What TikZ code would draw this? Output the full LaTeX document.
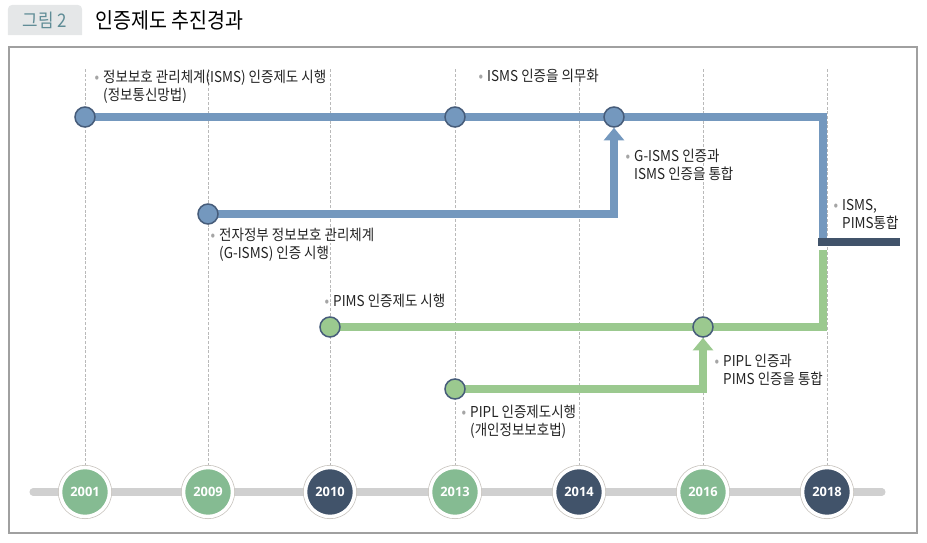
\documentclass[tikz,border=0pt]{standalone}
\usepackage{fontspec}
\setmainfont{Noto Sans CJK KR}[FakeStretch=0.9]
\newfontfamily\yrfont{Open Sans}
\usepackage{xcolor}
\usetikzlibrary{arrows.meta, positioning, backgrounds, calc}
\definecolor{lineblue}{RGB}{116, 152, 190}
\definecolor{linegreen}{RGB}{155, 201, 143}
\definecolor{dotedge}{RGB}{70, 92, 122}
\definecolor{yrgreen}{RGB}{133, 187, 146}
\definecolor{yrdark}{RGB}{65, 83, 106}
\definecolor{ringgray}{RGB}{200, 196, 190}
\definecolor{trackgray}{RGB}{208, 208, 208}
\definecolor{gridgray}{RGB}{185, 185, 185}
\definecolor{framegray}{RGB}{160, 160, 160}
\definecolor{tabgray}{RGB}{229, 231, 232}
\definecolor{tabtext}{RGB}{95, 140, 150}
\definecolor{bulgray}{RGB}{165, 165, 165}
\definecolor{txtdark}{RGB}{35, 35, 35}
\newcommand\bul{\llap{\textcolor{bulgray}{\textbullet}\hspace{3.5pt}}}

\begin{document}
\begin{tikzpicture}[
    x=0.03cm, y=-0.03cm,
    yr/.style={circle, fill=yrgreen, draw=white, line width=3pt, minimum size=1.47cm, inner sep=0pt, preaction={draw=ringgray, line width=4.3pt}, text=white, font=\yrfont\bfseries\fontsize{11}{13}\selectfont},
    dot/.style={circle, draw=dotedge, line width=1.3pt, minimum size=0.6cm, inner sep=0pt},
    bdot/.style={dot, fill=lineblue},
    gdot/.style={dot, fill=linegreen},
    bline/.style={line width=0.24cm, color=lineblue},
    gline/.style={line width=0.24cm, color=linegreen},
    tip/.style={-{Triangle[width=0.6cm, length=0.38cm]}},
    grid/.style={dashed, dash pattern=on 2.5pt off 1.5pt, line width=0.6pt, color=gridgray},
    evt/.style={anchor=north west, inner sep=0pt, align=left, font=\fontsize{12.8}{15.5}\selectfont, text=txtdark}
]
\useasboundingbox (0,0) rectangle (927,543);

% title
\node[minimum width=2.22cm, minimum height=0.9cm, inner sep=0pt, text=tabtext, font=\fontsize{16}{18}\selectfont] (tab) at (45,20) {그림 2};
\node[anchor=west, inner sep=0pt, font=\fontsize{18.5}{20}\selectfont] (title) at (95,20) {인증제도 추진경과};

% years
\foreach \yr/\x/\c in {2001/85/yrgreen, 2009/208/yrgreen, 2010/330/yrdark, 2013/455/yrgreen, 2014/579/yrdark, 2016/703/yrgreen, 2018/827/yrdark}
    \node[yr, fill=\c] (y\yr) at (\x,492) {\yr};

% events
\node[bdot] (isms01) at (y2001 |- 0,117) {};
\node[bdot] (isms13) at (y2013 |- 0,117) {};
\node[bdot] (mrg14) at ($(y2014 |- 0,117)+(35,0)$) {};
\node[bdot] (gisms09) at (y2009 |- 0,214) {};
\node[gdot] (pims10) at (y2010 |- 0,327) {};
\node[gdot] (mrg16) at (y2016 |- 0,327) {};
\node[gdot] (pipl13) at (y2013 |- 0,389) {};
\node[fill=yrdark, minimum width=2.46cm, minimum height=0.24cm, inner sep=0pt, anchor=west] (uni18) at (818,242) {};
\coordinate (c18) at ($(y2018 |- isms01)+(-4,0)$);

% labels
\node[evt] (t01) at (103,70) {\bul 정보보호 관리체계(ISMS) 인증제도 시행\\(정보통신망법)};
\node[evt] (t13) at (487,69) {\bul ISMS 인증을 의무화};
\node[evt] (t14) at (634,149) {\bul G-ISMS 인증과\\ISMS 인증을 통합};
\node[evt] (t09) at (219,228) {\bul 전자정부 정보보호 관리체계\\(G-ISMS) 인증 시행};
\node[evt] (t18) at (842,199) {\bul ISMS,\\PIMS통합};
\node[evt] (t10) at (333,294) {\bul PIMS 인증제도 시행};
\node[evt] (t16) at (723,354) {\bul PIPL 인증과\\PIMS 인증을 통합};
\node[evt] (t13b) at (470,405) {\bul PIPL 인증제도시행\\(개인정보보호법)};

\begin{scope}[on background layer]
\fill[tabgray] (tab.south west) [rounded corners=4pt] |- (tab.north east) [sharp corners] -- (tab.south east) -- cycle;
\draw[framegray, line width=0.9pt] (9,47) rectangle (917,533);
\foreach \yr in {2001,2009,2010,2013,2014,2016,2018}
    \draw[grid] (y\yr.north) -- (y\yr.north |- 0,68);
\draw[trackgray, line width=6pt, line cap=round] ($(y2001)+(-52,0)$) -- ($(y2018)+(55,0)$);
\draw[bline] (isms01.center) -| (c18 |- uni18.north);
\draw[bline, tip] (gisms09.center) -| (mrg14.south);
\draw[gline] ($(c18 |- uni18.south)+(0,4)$) |- (pims10.center);
\draw[gline, tip] (pipl13.center) -| (mrg16.south);
\end{scope}
\end{tikzpicture}
\end{document}
